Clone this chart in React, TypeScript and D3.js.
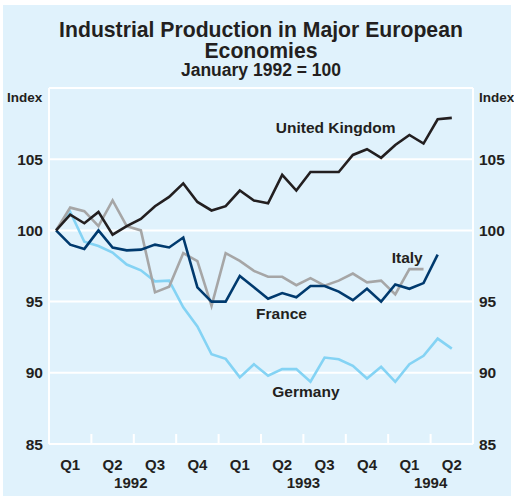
import React from "react";
import * as d3 from "d3";

const W = 514;
const H = 497;

const ukValues = [100, 101.1, 100.5, 101.3, 99.7, 100.3, 100.8, 101.7, 102.35, 103.3, 102.0, 101.4, 101.7, 102.8, 102.1, 101.9, 103.9, 102.8, 104.1, 104.1, 104.1, 105.3, 105.7, 105.1, 106.0, 106.7, 106.1, 107.8, 107.9];
const franceValues = [100, 99.0, 98.7, 100, 98.8, 98.6, 98.65, 99.0, 98.8, 99.5, 96.0, 95.0, 95.0, 96.8, 96.0, 95.2, 95.6, 95.3, 96.1, 96.1, 95.7, 95.1, 95.9, 95.0, 96.2, 95.9, 96.3, 98.3];
const italyValues = [100, 101.6, 101.35, 100.3, 102.1, 100.3, 100.0, 95.65, 96.05, 98.4, 97.85, 94.7, 98.4, 97.86, 97.16, 96.74, 96.74, 96.15, 96.65, 96.12, 96.47, 96.97, 96.35, 96.47, 95.5, 97.28, 97.28];
const germanyValues = [100, 101.3, 99.2, 98.9, 98.44, 97.6, 97.2, 96.42, 96.47, 94.6, 93.26, 91.3, 90.98, 89.68, 90.6, 89.8, 90.26, 90.26, 89.37, 91.07, 90.95, 90.49, 89.6, 90.42, 89.37, 90.6, 91.19, 92.4, 91.7];

const quarterLabels = ["Q1", "Q2", "Q3", "Q4", "Q1", "Q2", "Q3", "Q4", "Q1", "Q2"];
const yearLabels = ["1992", "1993", "1994"];
const yearCenters = [6, 18, 27]; // month positions
const yTicks = [85, 90, 95, 100, 105, 110];
const yLabelTicks = [85, 90, 95, 100, 105];

const series = [
  { name: "Germany", values: germanyValues, color: "#84d3f4" },
  { name: "Italy", values: italyValues, color: "#a6a6a6" },
  { name: "France", values: franceValues, color: "#003a6e" },
  { name: "United Kingdom", values: ukValues, color: "#231f20" },
];

const labels = [
  { text: "United Kingdom", month: 16.05, value: 106.85 },
  { text: "Italy", month: 24.25, value: 97.7 },
  { text: "France", month: 14.65, value: 93.8 },
  { text: "Germany", month: 15.8, value: 88.3 },
];

const FONT = "'Liberation Sans', Arial, Helvetica, sans-serif";

export default function App() {
  const left = 49;
  const right = 473;
  const top = 88;
  const bottom = 444;
  const x = d3.scaleLinear().domain([0, 30]).range([left, right]);
  const y = d3.scaleLinear().domain([85, 110]).range([bottom, top]);
  const line = d3
    .line<number>()
    .x((_, i) => x(i + 0.5))
    .y((d) => y(d));

  const quarterTicks = d3.range(0, 31, 3);

  return (
    <svg
      width={W}
      height={H}
      style={{ position: "absolute", left: 0, top: 0 }}
      fontFamily={FONT}
    >
      <rect x={3} y={5} width={508} height={491} fill="#e0f2fc" />
      <text x={261} y={37} textAnchor="middle" fontSize={21.2} fontWeight="bold" fill="#231f20">
        Industrial Production in Major European
      </text>
      <text x={261} y={58} textAnchor="middle" fontSize={21.2} fontWeight="bold" fill="#231f20">
        Economies
      </text>
      <text x={261} y={76} textAnchor="middle" fontSize={17.5} fontWeight="bold" fill="#231f20">
        January 1992 = 100
      </text>
      <text x={7} y={102} fontSize={13.5} fontWeight="bold" fill="#231f20">Index</text>
      <text x={479} y={102} fontSize={13.5} fontWeight="bold" fill="#231f20">Index</text>

      {yTicks.map((t) => (
        <line key={t} x1={left} x2={right} y1={y(t)} y2={y(t)} stroke="#ffffff" strokeWidth={2} />
      ))}
      <line x1={left} x2={left} y1={top} y2={bottom} stroke="#ffffff" strokeWidth={2} />
      <line x1={right} x2={right} y1={top} y2={bottom} stroke="#ffffff" strokeWidth={2} />
      {quarterTicks.map((m) => (
        <line key={m} x1={x(m)} x2={x(m)} y1={bottom} y2={bottom - 10} stroke="#ffffff" strokeWidth={2} />
      ))}

      {yLabelTicks.map((t) => (
        <g key={t}>
          <text x={43} y={y(t) + 5.5} textAnchor="end" fontSize={15.5} fontWeight="bold" fill="#231f20">{t}</text>
          <text x={479} y={y(t) + 5.5} textAnchor="start" fontSize={15.5} fontWeight="bold" fill="#231f20">{t}</text>
        </g>
      ))}

      {quarterLabels.map((q, i) => (
        <text key={i} x={x(i * 3 + 1.5)} y={470} textAnchor="middle" fontSize={15} fontWeight="bold" fill="#231f20">{q}</text>
      ))}
      {yearLabels.map((yl, i) => (
        <text key={yl} x={x(yearCenters[i]) - (i === 0 ? 3 : 0)} y={488} textAnchor="middle" fontSize={15} fontWeight="bold" fill="#231f20">{yl}</text>
      ))}

      {series.map((s) => (
        <path key={s.name} d={line(s.values) || ""} fill="none" stroke={s.color} strokeWidth={2.6} strokeLinejoin="miter" />
      ))}

      {labels.map((l) => (
        <text key={l.text} x={x(l.month)} y={y(l.value)} textAnchor="start" fontSize={15.5} fontWeight="bold" fill="#231f20">{l.text}</text>
      ))}
    </svg>
  );
}
